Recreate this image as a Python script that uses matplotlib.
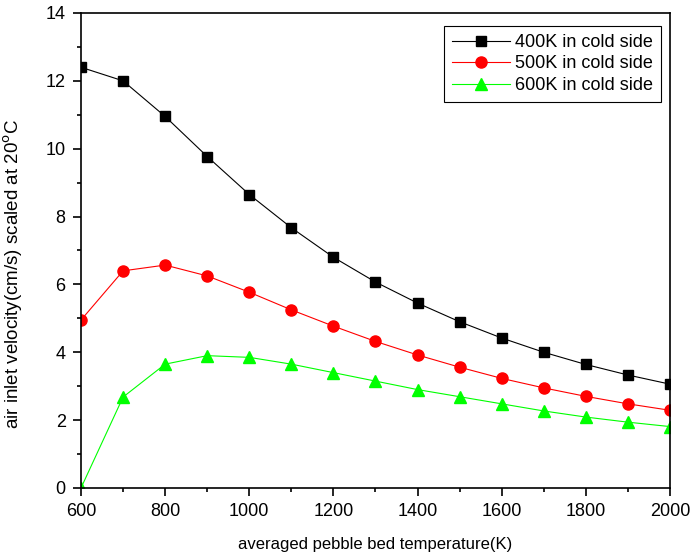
import matplotlib
matplotlib.use("Agg")
import matplotlib.pyplot as plt
from matplotlib.ticker import MultipleLocator

plt.rcParams["font.family"] = ["Liberation Sans", "DejaVu Sans"]

# Data
temperature = [600, 700, 800, 900, 1000, 1100, 1200, 1300, 1400, 1500,
               1600, 1700, 1800, 1900, 2000]
v_400k = [12.4, 12.0, 10.95, 9.77, 8.65, 7.67, 6.8, 6.07, 5.45, 4.9,
          4.42, 4.0, 3.64, 3.33, 3.06]
v_500k = [4.95, 6.4, 6.57, 6.25, 5.77, 5.25, 4.77, 4.32, 3.92, 3.56,
          3.23, 2.95, 2.7, 2.48, 2.29]
v_600k = [0.0, 2.68, 3.65, 3.9, 3.85, 3.65, 3.4, 3.15, 2.9, 2.69,
          2.48, 2.27, 2.09, 1.94, 1.81]

fig = plt.figure(figsize=(6.9, 5.6), dpi=100)
ax = fig.add_axes([0.1174, 0.1286, 0.8536, 0.8482])

ax.plot(temperature, v_400k, color="black", lw=0.8, marker="s", ms=7,
        label="400K in cold side")
ax.plot(temperature, v_500k, color="red", lw=0.8, marker="o", ms=8,
        label="500K in cold side")
ax.plot(temperature, v_600k, color="#00ff00", lw=0.8, marker="^", ms=8,
        label="600K in cold side")

ax.set_xlim(600, 2000)
ax.set_ylim(0, 14)
ax.xaxis.set_major_locator(MultipleLocator(200))
ax.xaxis.set_minor_locator(MultipleLocator(100))
ax.yaxis.set_major_locator(MultipleLocator(2))
ax.yaxis.set_minor_locator(MultipleLocator(1))
ax.tick_params(which="both", direction="out", top=False, right=False,
               labelsize=13, width=1.2)
ax.tick_params(which="major", length=6, pad=5)
ax.tick_params(which="minor", length=3)
for sp in ax.spines.values():
    sp.set_linewidth(1.2)

ax.set_xlabel("averaged pebble bed temperature(K)", fontsize=12, labelpad=12)
ax.set_ylabel("air inlet velocity(cm/s) scaled at 20$^{\\rm o}$C", fontsize=13.5,
              labelpad=8)
ax.yaxis.set_label_coords(-0.095, 0.45)

leg = ax.legend(loc="upper right", bbox_to_anchor=(0.985, 0.973), fontsize=13,
                fancybox=False, edgecolor="black", framealpha=1,
                handlelength=3.2, borderpad=0.45, labelspacing=0.25,
                handletextpad=0.3, borderaxespad=0)
leg.get_frame().set_linewidth(0.8)

fig.savefig("out.png", dpi=100)
